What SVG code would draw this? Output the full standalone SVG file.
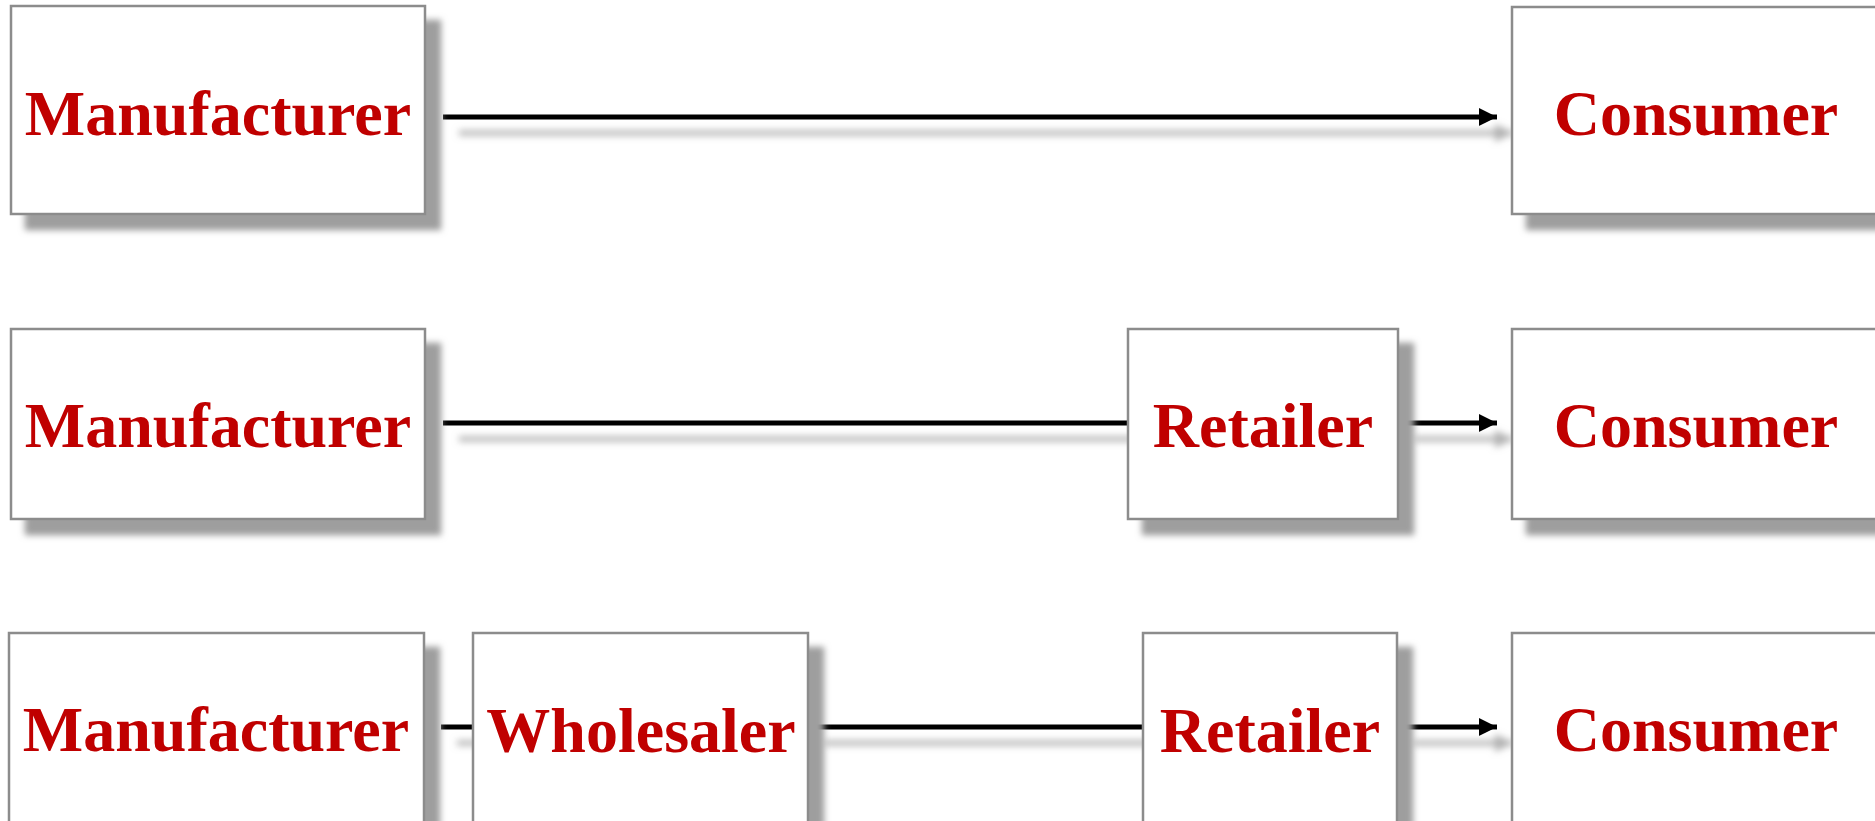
<svg xmlns="http://www.w3.org/2000/svg" width="1875" height="821" viewBox="0 0 1875 821">
<style>
.box{fill:#fff;stroke:#8c8c8c;stroke-width:2.5}
.lbl{font-family:"Liberation Serif","Times New Roman",serif;font-weight:bold;font-size:64px;fill:#c00000;text-anchor:middle}
.ln{stroke:#000;stroke-width:5;fill:none}
</style>
<defs>
<filter id="bsh" x="-10%" y="-10%" width="130%" height="140%">
<feGaussianBlur in="SourceAlpha" stdDeviation="3"/>
<feOffset dx="15" dy="15" result="b"/>
<feFlood flood-color="#9e9e9e"/>
<feComposite in2="b" operator="in"/>
<feMerge><feMergeNode/><feMergeNode in="SourceGraphic"/></feMerge>
</filter>
<filter id="lsh" filterUnits="userSpaceOnUse" x="0" y="0" width="1875" height="821">
<feGaussianBlur in="SourceAlpha" stdDeviation="3.5"/>
<feOffset dx="16" dy="16" result="b"/>
<feFlood flood-color="#b0b0b0"/>
<feComposite in2="b" operator="in"/>
<feMerge><feMergeNode/><feMergeNode in="SourceGraphic"/></feMerge>
</filter>
<marker id="arr" markerUnits="userSpaceOnUse" markerWidth="18" markerHeight="18" refX="18" refY="9" orient="auto">
<path d="M0,0 L18,9 L0,18 z" fill="#000"/>
</marker>
</defs>
<g id="connectors" filter="url(#lsh)">
<line class="ln" x1="443" y1="117" x2="1497" y2="117" marker-end="url(#arr)"/>
<line class="ln" x1="443" y1="423" x2="1128" y2="423"/>
<line class="ln" x1="1398" y1="423" x2="1497" y2="423" marker-end="url(#arr)"/>
<line class="ln" x1="441" y1="727" x2="473" y2="727"/>
<line class="ln" x1="808" y1="727" x2="1143" y2="727"/>
<line class="ln" x1="1397" y1="727" x2="1497" y2="727" marker-end="url(#arr)"/>
</g>
<g id="manufacturer1" filter="url(#bsh)">
<rect class="box" x="11" y="6" width="414" height="208"/>
<text class="lbl" x="218" y="135">Manufacturer</text>
</g>
<g id="consumer1" filter="url(#bsh)">
<rect class="box" x="1512" y="7" width="372" height="207"/>
<text class="lbl" x="1696" y="135">Consumer</text>
</g>
<g id="manufacturer2" filter="url(#bsh)">
<rect class="box" x="11" y="329" width="414" height="190"/>
<text class="lbl" x="218" y="447">Manufacturer</text>
</g>
<g id="retailer2" filter="url(#bsh)">
<rect class="box" x="1128" y="329" width="270" height="190"/>
<text class="lbl" x="1263" y="447">Retailer</text>
</g>
<g id="consumer2" filter="url(#bsh)">
<rect class="box" x="1512" y="329" width="372" height="190"/>
<text class="lbl" x="1696" y="447">Consumer</text>
</g>
<g id="manufacturer3" filter="url(#bsh)">
<rect class="box" x="9" y="633" width="415" height="210"/>
<text class="lbl" x="216" y="751">Manufacturer</text>
</g>
<g id="wholesaler3" filter="url(#bsh)">
<rect class="box" x="473" y="633" width="335" height="210"/>
<text class="lbl" x="641" y="752">Wholesaler</text>
</g>
<g id="retailer3" filter="url(#bsh)">
<rect class="box" x="1143" y="633" width="254" height="210"/>
<text class="lbl" x="1270" y="752">Retailer</text>
</g>
<g id="consumer3" filter="url(#bsh)">
<rect class="box" x="1512" y="633" width="372" height="210"/>
<text class="lbl" x="1696" y="751">Consumer</text>
</g>
</svg>
